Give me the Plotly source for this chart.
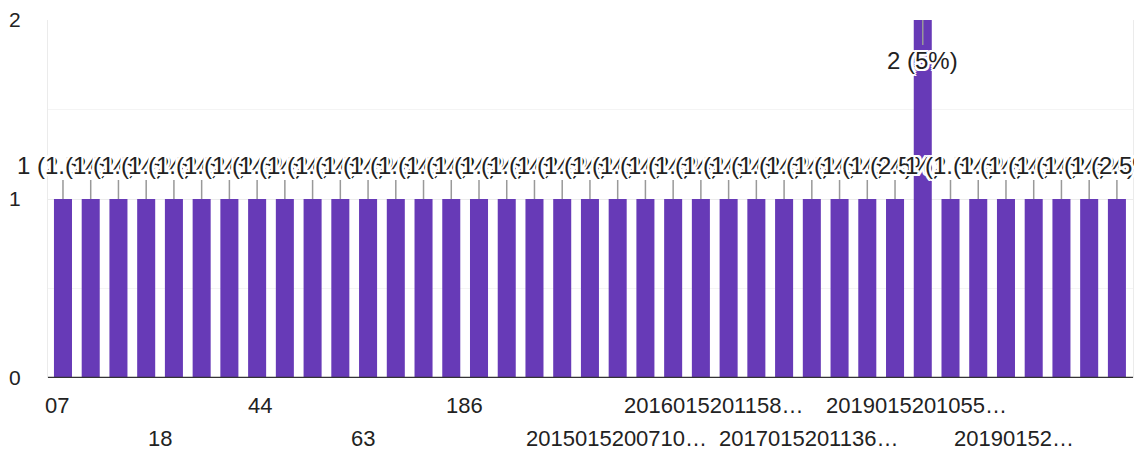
import plotly.graph_objects as go

# ---- data ----
counts = [1] * 31 + [2] + [1] * 7          # 39 answers, one given twice
x_labels = ["07", "18", "44", "63", "186", "2015015200710…", "2016015201158…",
            "2017015201136…", "2019015201055…", "20190152…"]
# where Google placed each visible category label (in bar-index units)
x_label_slots = [-0.22, 3.50, 7.10, 10.81, 14.49, 19.97, 23.47, 26.89, 30.79, 34.28]
y_ticks = [0, 1, 2]

total = sum(counts)
n = len(counts)
xs = list(range(n))

PURPLE = "#673AB7"
TXT = "#222222"
FONT = "Arial, Liberation Sans, sans-serif"

fig = go.Figure(go.Bar(x=xs, y=counts, marker_color=PURPLE, marker_line_width=0,
                       hoverinfo="skip"))

halo = ("2px 0 0 #fff, -2px 0 0 #fff, 0 2px 0 #fff, 0 -2px 0 #fff, "
        "2px 2px 0 #fff, -2px -2px 0 #fff, 2px -2px 0 #fff, -2px 2px 0 #fff")

anns = []
for x, v in zip(xs, counts):
    pct = v / total * 100
    text = f"{v} ({pct:g}%)"
    top = v >= max(y_ticks)
    anns.append(dict(x=x, y=v, xref="x", yref="y", text=text, showarrow=True,
                     arrowhead=0, arrowwidth=1.5, arrowcolor="#999999", ax=0,
                     ay=40 if top else -34, standoff=0, startstandoff=0,
                     font=dict(family=FONT, size=24, color=TXT, shadow=halo)))

for i, (lab, slot) in enumerate(zip(x_labels, x_label_slots)):
    row = i % 2
    anns.append(dict(x=slot, y=-0.078 if row == 0 else -0.168, xref="x", yref="paper",
                     text=lab, showarrow=False, xanchor="center", yanchor="middle",
                     font=dict(family=FONT, size=22, color=TXT)))

fig.update_layout(
    width=1134, height=451,
    margin=dict(l=48, r=1, t=20, b=73),
    paper_bgcolor="white", plot_bgcolor="white",
    bargap=0.35, showlegend=False,
    annotations=anns,
    font=dict(family=FONT, size=21, color=TXT),
    xaxis=dict(range=[-0.54, n - 1 + 0.58], showticklabels=False, showgrid=False,
               zeroline=False, showline=False, fixedrange=True),
    yaxis=dict(range=[0, 2], tickvals=y_ticks, gridcolor="#ebebeb", gridwidth=1,
               minor=dict(dtick=0.5, showgrid=True, gridcolor="#f4f4f4"),
               showline=True, mirror=True, linecolor="#ebebeb", linewidth=1,
               zeroline=False, ticklabelstandoff=22, fixedrange=True,
               tickfont=dict(family=FONT, size=21, color=TXT)),
    shapes=[dict(type="line", xref="paper", yref="y", x0=0, x1=1, y0=0, y1=0,
                 line=dict(color="#333333", width=2.5), layer="above")],
)

fig.write_html("out.html", config={"displayModeBar": False},
               post_script="document.body.style.margin='0';"
                           "document.body.style.overflow='hidden';")
